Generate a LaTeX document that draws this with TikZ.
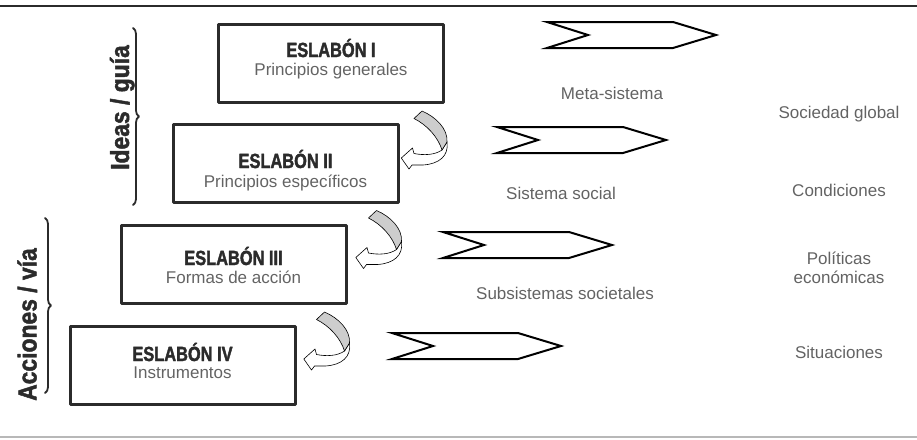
\documentclass[tikz,border=0pt]{standalone}
\usepackage{fontspec}
\setmainfont{Liberation Sans}
\newfontfamily\eslabonfont[FakeStretch=0.8, FakeBold=1.8]{Liberation Sans Bold}
\newfontfamily\ladofont[FakeStretch=0.88, FakeBold=1.8]{Liberation Sans Bold}
\usetikzlibrary{calc,decorations.pathreplacing}
\definecolor{tinta}{HTML}{2B2B2B}
\definecolor{texto}{HTML}{636363}
\definecolor{cinta}{HTML}{CDCDCD}
\begin{document}
\begin{tikzpicture}[x=1pt,y=-1pt, line join=round, line cap=round,
	eslabon/.style={draw=tinta, line width=3pt, minimum width=225pt, minimum height=78pt, inner sep=0pt},
	titulo/.style={anchor=base, text=tinta, font=\eslabonfont\fontsize{20.5}{22}\selectfont},
	etiqueta/.style={anchor=base, text=texto, font=\fontsize{17}{20}\selectfont},
	lado/.style={anchor=base, rotate=90, text=tinta, font=\ladofont\fontsize{26}{28}\selectfont},
	llave/.style={decorate, decoration={brace, amplitude=6pt}, draw=tinta, line width=1.8pt},
	chev/.style={draw=black, line width=2pt, line join=miter},
	cintab/.style={draw=black, line width=0.6pt, fill=white},
	cintag/.style={draw=black, line width=0.6pt, fill=cinta}]
	\useasboundingbox (0,0) rectangle (917,439);
	\draw[tinta, line width=2.5pt] (0,6) -- (917,6);
	\draw[black!28, line width=1.5pt] (0,437) -- (917,437);
	% eslabones
	\node[eslabon] (e1) at (331,63.5) {};
	\node[eslabon] (e2) at (285.5,163) {};
	\node[eslabon] (e3) at (233.5,264.5) {};
	\node[eslabon] (e4) at (182.5,365.5) {};
	\node[titulo] (t1) at (331,57) {ESLABÓN I};
	\node[etiqueta] (s1) at (331,75) {Principios generales};
	\node[titulo] (t2) at (285.5,168) {ESLABÓN II};
	\node[etiqueta] (s2) at (285.5,187) {Principios específicos};
	\node[titulo] (t3) at (233.5,265) {ESLABÓN III};
	\node[etiqueta] (s3) at (233.5,283) {Formas de acción};
	\node[titulo] (t4) at (182.5,361) {ESLABÓN IV};
	\node[etiqueta] (s4) at (182.5,378) {Instrumentos};
	% llaves laterales
	\node[lado] (ideas) at (129,107.5) {Ideas / guía};
	\node[lado] (acciones) at (36.5,324.5) {Acciones / vía};
	\draw[llave] (133,28) -- (133,205);
	\draw[llave] (45,218) -- (45,393);
	% flechas curvas entre eslabones
	\foreach \b in {e1,e2,e3}{
		\begin{scope}[shift={($(\b.south east)+(-52,1)$)}]
			\filldraw[cintab] (54,37) .. controls (56,51) and (46,59) .. (30,60) -- (19,60) -- (16,64) -- (8.3,53) -- (19.5,43) -- (21,48.5) .. controls (31,50.5) and (42,50) .. (49,45) -- cycle;
			\filldraw[cintag] (29,6) .. controls (43,12) and (55,24) .. (54,37) -- (49,45) .. controls (45,32) and (34,20) .. (21,13.5) -- cycle;
		\end{scope}
	}
	% flechas quebradas
	\foreach \x/\y in {547/22, 497/127, 443/232, 392/333}{
		\draw[chev] (\x,\y) -- ++(126,0) -- ++(43,13) -- ++(-43,13) -- ++(-126,0) -- ++(41,-13) -- cycle;
	}
	% niveles
	\node[etiqueta] (meta) at (612,99) {Meta-sistema};
	\node[etiqueta] (sistema) at (561,199) {Sistema social};
	\node[etiqueta] (subsist) at (565,299) {Subsistemas societales};
	\node[etiqueta] (sociedad) at (839,118) {Sociedad global};
	\node[etiqueta] (cond) at (839,196) {Condiciones};
	\node[etiqueta] (pol) at (839,264) {Políticas};
	\node[etiqueta] (econ) at (839,283) {económicas};
	\node[etiqueta] (sit) at (839,358) {Situaciones};
\end{tikzpicture}
\end{document}
